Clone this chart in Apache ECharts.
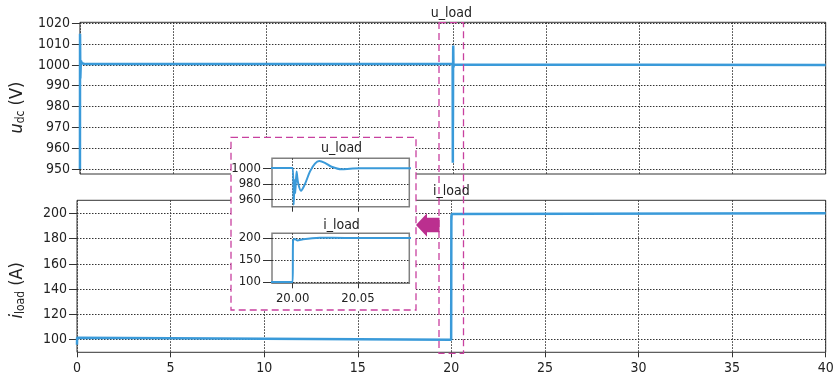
<!DOCTYPE html>
<html><head><meta charset="utf-8">
<script src="https://cdn.jsdelivr.net/npm/echarts@6/dist/echarts.min.js"></script>
<style>html,body{margin:0;padding:0;background:#fff}#c{width:838px;height:380px}</style>
</head><body><div id="c"></div>
<script>
// DC-link voltage u_dc (V) vs time (s)
const tU  = [0, 0.005, 0.02, 0.05, 0.1, 0.3, 19.99, 20.0, 20.0008, 20.0015, 20.0020, 20.0030, 20.0041, 20.0064, 20.0095, 20.0133, 20.0171, 20.0204, 20.0247, 20.0298, 20.0375, 20.0439, 20.0515, 20.1, 40];
const uDc = [950, 1015, 993.5, 1002, 1000.8, 1000.4, 1000.4, 1000.3, 953, 985, 968, 996, 982, 971, 980, 996, 1006, 1009.3, 1007, 1002, 998.8, 999.5, 1000.2, 1000, 1000];
// load current i_load (A) vs time (s)
const tI    = [0, 0.005, 0.02, 19.99, 20.0, 20.0003, 20.0015, 20.0035, 20.008, 20.015, 20.021, 20.04, 20.1, 40];
const iLoad = [96, 101.5, 100, 100, 100, 193, 198, 194.5, 197, 199.5, 200.4, 200.2, 200, 200];
// tick labels
const xTicksMain  = [0, 5, 10, 15, 20, 25, 30, 35, 40];
const uTicks      = [950, 960, 970, 980, 990, 1000, 1010, 1020];
const iTicks      = [100, 120, 140, 160, 180, 200];
const uInsetTicks = [960, 980, 1000];
const iInsetTicks = [100, 150, 200];
const tInsetTicks = [20.00, 20.05];

const FONT = "'DejaVu Sans Condensed','DejaVu Sans',sans-serif";
const BLUE = '#3a9ad9';
const MAG = '#c8409f';
const MAG2 = '#bb2f8f';
const GRIDC = '#333';

const chart = echarts.init(document.getElementById('c'), null, {renderer: 'canvas'});
const zip = (a, b) => a.map((v, i) => [v, b[i]]);
const plain = v => String(v);

function xAx(grid, min, max, opts) {
  return Object.assign({
    type: 'value', gridIndex: grid, min: min, max: max, z: 1,
    axisLine: {show: false},
    axisTick: {show: true, length: 5, lineStyle: {color: GRIDC}},
    axisLabel: {show: true, color: '#222', fontFamily: FONT, fontSize: 14, margin: 9, formatter: plain},
    splitLine: {show: true, lineStyle: {color: GRIDC, type: [1.5, 1.5], width: 1}}
  }, opts);
}
function yAx(grid, min, max, ticks, opts) {
  return Object.assign({
    type: 'value', gridIndex: grid, min: min, max: max, z: 1,
    axisLine: {show: false},
    axisTick: {show: true, length: 8, customValues: ticks, lineStyle: {color: GRIDC}},
    axisLabel: {show: true, customValues: ticks, color: '#222', fontFamily: FONT, fontSize: 14, margin: 10, formatter: plain},
    splitLine: {show: true, lineStyle: {color: GRIDC, type: [1.5, 1.5], width: 1}}
  }, opts);
}
const titleRich = {
  it: {fontFamily: FONT, fontSize: 18, fontStyle: 'italic', color: '#222'},
  sub: {fontFamily: FONT, fontSize: 12, color: '#222', verticalAlign: 'bottom', padding: [8, 0, 0, 0]},
  n: {fontFamily: FONT, fontSize: 18, color: '#222'}
};

const option = {
  backgroundColor: '#fff',
  animation: false,
  grid: [
    {left: 76.7, width: 749, top: 22.3, height: 151.7, show: true, borderColor: '#333', borderWidth: 1, z: 1},
    {left: 76.7, width: 749, top: 200.3, height: 152, show: true, borderColor: '#333', borderWidth: 1, z: 1},
    {left: 272, width: 137.3, top: 158.3, height: 48.4, show: true, borderColor: '#808080', borderWidth: 1.5, backgroundColor: '#fff', z: 7},
    {left: 272, width: 137.3, top: 233.3, height: 50, show: true, borderColor: '#808080', borderWidth: 1.5, backgroundColor: '#fff', z: 7}
  ],
  xAxis: [
    xAx(0, 0, 40, {interval: 5, axisTick: {show: false}, axisLabel: {show: false}}),
    xAx(1, 0, 40, {interval: 5}),
    xAx(2, 19.9842, 20.0893, {z: 8,
      axisTick: {show: true, length: 5, customValues: tInsetTicks, lineStyle: {color: GRIDC}},
      axisLabel: {show: false, customValues: tInsetTicks}}),
    xAx(3, 19.9842, 20.0893, {z: 8,
      axisTick: {show: true, length: 5, customValues: tInsetTicks, lineStyle: {color: GRIDC}},
      axisLabel: {show: true, customValues: tInsetTicks, color: '#222', fontFamily: FONT, fontSize: 13, margin: 9,
        formatter: v => Number(v).toFixed(2)}})
  ],
  yAxis: [
    yAx(0, 947.6, 1020.48, uTicks, {
      name: '{it|u}{sub|dc}{n| (V)}', nameLocation: 'middle', nameGap: 50,
      nameTextStyle: {padding: [0, 19, 0, 0], rich: titleRich}}),
    yAx(1, 90.03, 210.3, iTicks, {
      name: '{it|i}{sub|load}{n| (A)}', nameLocation: 'middle', nameGap: 50,
      nameTextStyle: {padding: [0, 28, 0, 0], rich: titleRich}}),
    yAx(2, 950.5, 1012.9, uInsetTicks, {z: 8,
      axisTick: {show: true, length: 9, customValues: uInsetTicks, lineStyle: {color: GRIDC}},
      axisLabel: {show: true, customValues: uInsetTicks, color: '#222', fontFamily: FONT, fontSize: 13, margin: 11, formatter: plain}}),
    yAx(3, 97.0, 210.7, iInsetTicks, {z: 8,
      axisTick: {show: true, length: 9, customValues: iInsetTicks, lineStyle: {color: GRIDC}},
      axisLabel: {show: true, customValues: iInsetTicks, color: '#222', fontFamily: FONT, fontSize: 13, margin: 11, formatter: plain}})
  ],
  series: [
    {type: 'line', xAxisIndex: 0, yAxisIndex: 0, data: zip(tU, uDc), showSymbol: false, z: 2,
      lineStyle: {color: BLUE, width: 2.5}, itemStyle: {color: BLUE}},
    {type: 'line', xAxisIndex: 1, yAxisIndex: 1, data: zip(tI, iLoad), showSymbol: false, z: 2,
      lineStyle: {color: BLUE, width: 2.5}, itemStyle: {color: BLUE}},
    {type: 'line', xAxisIndex: 2, yAxisIndex: 2, data: zip(tU, uDc), showSymbol: false, z: 9, smooth: 0.3,
      lineStyle: {color: BLUE, width: 2}, itemStyle: {color: BLUE}},
    {type: 'line', xAxisIndex: 3, yAxisIndex: 3, data: zip(tI, iLoad), showSymbol: false, z: 9, smooth: 0.3,
      lineStyle: {color: BLUE, width: 2}, itemStyle: {color: BLUE}}
  ],
  graphic: [
    {type: 'rect', z: 5, shape: {x: 231, y: 137.3, width: 185, height: 172.7},
      style: {fill: '#fff', stroke: MAG, lineWidth: 1.3, lineDash: [7, 4]}},
    {type: 'rect', z: 5, shape: {x: 439, y: 22.7, width: 24.5, height: 330.6},
      style: {fill: null, stroke: MAG, lineWidth: 1.3, lineDash: [7, 4]}},
    {type: 'polygon', z: 5, shape: {points: [[416, 225], [427, 213.3], [427, 217.7], [439.5, 217.7], [439.5, 232.3], [427, 232.3], [427, 236.7]]},
      style: {fill: MAG2}},
    {type: 'text', z: 10, x: 451.3, y: 13.3, style: {text: 'u_load', x: 0, y: 0, align: 'center', verticalAlign: 'middle', font: '14px ' + FONT, fill: '#222'}},
    {type: 'text', z: 10, x: 451.3, y: 191.7, style: {text: 'i_load', x: 0, y: 0, align: 'center', verticalAlign: 'middle', font: '14px ' + FONT, fill: '#222'}},
    {type: 'text', z: 10, x: 341.5, y: 148.3, style: {text: 'u_load', x: 0, y: 0, align: 'center', verticalAlign: 'middle', font: '14px ' + FONT, fill: '#222'}},
    {type: 'text', z: 10, x: 341.5, y: 225, style: {text: 'i_load', x: 0, y: 0, align: 'center', verticalAlign: 'middle', font: '14px ' + FONT, fill: '#222'}}
  ]
};
chart.setOption(option);
</script>
</body></html>
